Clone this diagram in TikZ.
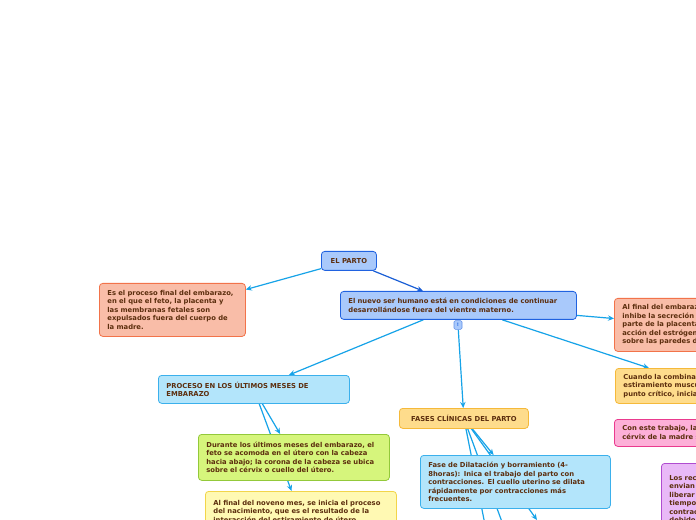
\documentclass[tikz,border=0pt]{standalone}
\usepackage{fontspec}
\setmainfont{DejaVu Sans}
\usetikzlibrary{arrows.meta,backgrounds}
\definecolor{txt}{HTML}{5C2E0E}
\definecolor{bluefill}{HTML}{A9C9FB}
\definecolor{blueline}{HTML}{2062E0}
\definecolor{salfill}{HTML}{F9BDA8}
\definecolor{salline}{HTML}{F2734A}
\definecolor{lbfill}{HTML}{B3E5FB}
\definecolor{lbline}{HTML}{3BB0EC}
\definecolor{orfill}{HTML}{FEDC8C}
\definecolor{orline}{HTML}{F5B93A}
\definecolor{pkfill}{HTML}{FDB0D8}
\definecolor{pkline}{HTML}{EA3A8E}
\definecolor{pufill}{HTML}{E9B9F7}
\definecolor{puline}{HTML}{B04CD0}
\definecolor{grfill}{HTML}{D6F57C}
\definecolor{grline}{HTML}{93C93A}
\definecolor{yefill}{HTML}{FFF9B3}
\definecolor{yeline}{HTML}{F2D54A}
\definecolor{edgec}{HTML}{16A3E8}
\definecolor{edgedark}{HTML}{1A5FD6}
\tikzset{
  box/.style={rounded corners=2.5pt, line width=0.6pt, anchor=north west,
    inner xsep=6pt, inner ysep=2pt, align=left, text=txt,
    font=\fontsize{5.1}{6.4}\selectfont\bfseries},
  bluebox/.style={box, fill=bluefill, draw=blueline},
  salbox/.style={box, fill=salfill, draw=salline},
  lbbox/.style={box, fill=lbfill, draw=lbline},
  orbox/.style={box, fill=orfill, draw=orline},
  pkbox/.style={box, fill=pkfill, draw=pkline},
  pubox/.style={box, fill=pufill, draw=puline},
  grbox/.style={box, fill=grfill, draw=grline},
  yebox/.style={box, fill=yefill, draw=yeline},
  conn/.style={draw=edgec, line width=0.9pt, -{Stealth[length=4.5pt,width=4pt]}},
  plainconn/.style={draw=edgec, line width=0.9pt},
  marker/.style={rounded corners=1pt, fill=bluefill, draw=blueline!70, line width=0.4pt,
    minimum width=6pt, minimum height=6.5pt, inner sep=0pt, text=blueline,
    font=\fontsize{3.5}{4}\selectfont\bfseries}
}
\begin{document}
\begin{tikzpicture}[x=0.75pt,y=-0.75pt]
\useasboundingbox (0,0) rectangle (696,520);
\clip (0,0) rectangle (696,520);

\node[bluebox, align=center, minimum width=41.25pt, minimum height=14.25pt, inner xsep=0pt] (elp) at (321,251) {EL PARTO};

\node[salbox, text width=97.5pt, minimum height=39.75pt] (es) at (99,283)
 {Es el proceso final del embarazo,\\ en el que el feto, la placenta y\\ las membranas fetales son\\ expulsados fuera del cuerpo de\\ la madre.};

\node[bluebox, text width=165pt, minimum height=21pt] (nuevo) at (340,291)
 {El nuevo ser humano está en condiciones de continuar\\ desarrollándose fuera del vientre materno.};

\node[marker] (mk) at (458,325) {!};

\node[salbox, text width=100.5pt, minimum height=39.75pt] (rsal) at (614,298)
 {Al final del embarazo, la\\ inhibe la secreción de\\ parte de la placenta y\\ acción del estrógeno y\\ sobre las paredes del útero.};

\node[orbox, text width=120pt, minimum height=26.25pt] (cuando) at (615,368)
 {Cuando la combinación de hormonas\\ estiramiento muscular del útero\\ punto crítico, inicia el parto.};

\node[pkbox, text width=120pt, minimum height=20.25pt] (con) at (614,419)
 {Con este trabajo, la dilatación del\\ cérvix de la madre se produce.};

\node[pubox, text width=78pt, minimum height=60pt] (los) at (661,463)
 {Los receptores\\ envian señales\\ liberar oxitocina\\ tiempo\\ contracciones\\ debido\\ a};

\node[lbbox, text width=131.25pt, minimum height=21pt] (proc) at (158,375)
 {PROCESO EN LOS ÚLTIMOS MESES DE\\ EMBARAZO};

\node[grbox, text width=131.25pt, minimum height=34.5pt] (dur) at (198,434)
 {Durante los últimos meses del embarazo, el\\ feto se acomoda en el útero con la cabeza\\ hacia abajo; la corona de la cabeza se ubica\\ sobre el cérvix o cuello del útero.};

\node[yebox, text width=131.25pt, minimum height=37.5pt] (nov) at (205,491)
 {Al final del noveno mes, se inicia el proceso\\ del nacimiento, que es el resultado de la\\ interacción del estiramiento de útero\\ y las hormonas.};

\node[orbox, align=center, minimum width=96.75pt, minimum height=15pt, inner xsep=0pt] (fases) at (399,408)
 {FASES CLÍNICAS DEL PARTO};

\node[lbbox, text width=130.5pt, minimum height=39.75pt] (dil) at (420,455)
 {Fase de Dilatación y borramiento (4-\\ 8horas): Inica el trabajo del parto con\\ contracciones. El cuello uterino se dilata\\ rápidamente por contracciones más\\ frecuentes.};

\coordinate (f1) at (492,560);
\coordinate (f2) at (516,560);
\coordinate (f3) at (537,520);

\begin{scope}[on background layer]
\fill[white] (0,0) rectangle (696,520);
\draw[conn] (elp) -- (es);
\draw[conn, draw=edgedark] (elp) -- (nuevo);
\draw[conn] (nuevo) -- (rsal);
\draw[conn] (nuevo) -- (cuando);
\draw[conn] (nuevo) -- (proc);
\draw[conn] (mk) -- (fases);
\draw[conn] (proc) -- (dur);
\draw[conn] (proc) -- (nov);
\draw[conn] (fases) -- (dil);
\draw[plainconn] (fases) -- (f1);
\draw[plainconn] (fases) -- (f2);
\draw[conn] (fases) -- (f3);
\end{scope}
\end{tikzpicture}
\end{document}
